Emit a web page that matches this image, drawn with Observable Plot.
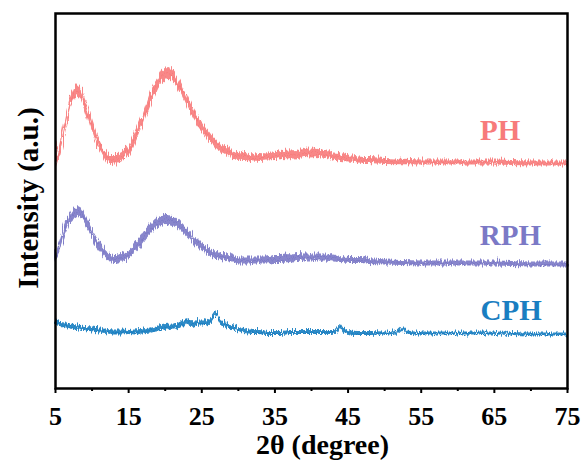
<!DOCTYPE html>
<html><head><meta charset="utf-8">
<script src="https://cdn.jsdelivr.net/npm/d3@7"></script>
<script src="https://cdn.jsdelivr.net/npm/@observablehq/plot@0.6"></script>
<style>body{margin:0;background:#fff} svg text{font-family:"Liberation Serif","DejaVu Serif",serif !important;}</style>
</head><body><div id="chart"></div>
<script>
// 2θ positions (degree) shared by PH and RPH
const xsMain = [5,5.5,6,6.5,7,7.5,8,8.5,9,9.5,10,10.5,11,11.5,12,12.5,13,13.5,14,14.5,15,15.5,16,16.5,17,17.5,18,18.5,19,19.5,20,20.5,21,21.5,22,22.5,23,23.5,24,24.5,25,25.5,26,26.5,27,27.5,28,28.5,29,29.5,30,31,32,33,34,35,36,37,38,39,40,41,42,43,44,45,46,47,48,50,55,60,65,70,75];
// Intensity (a.u., offset stacked) – centre of the noisy trace
const phY = [225,238,253,270,285,294,298,295,286,275,263,252,243,236,231,229,228,229,231,234,238,244,252,261,270,280,290,299,306,311,314,315,313,309,303,296,288,280,273,267,262,257,252,248,245,242,239,237,235,234,233,232,231,231,231,232,233,233,234,235,235,235,234,232,231,230,229,228,228,227,226,226,226,225,225];
// visible noise half-amplitude
const phNoise = [4,5,5,5,5,5,6,5,5,5,5,5,5,4,5,4,5,4,5,4,5,5,5,5,5,5,6,6,5,6,6,6,6,5,5,5,5,5,5,5,5,4,5,4,5,4,4,4,4,4,4,4,3.5,4,3.5,4,4,4.5,4,4,4.5,4,4,3.5,4,3.5,3,3,3,3,2.5,2.5,2.5,2.5,2.5];
const rphY = [130,140,151,162,171,176,177,175,169,162,155,148,142,137,133,130,129,129,130,132,134,137,141,145,150,155,159,163,166,168,169,169,168,166,163,160,156,152,148,145,142,139,137,135,133,132,131,130,129,129,128,128,128,128,128,129,129,130,131,131,131,131,131,130,129,128,128,128,127,126,125,125,125,124,124];
const rphNoise = [4,4,5,5,5,5,5,5,5,4,4,5,4,4,4,4,4,4,4,4,4,4,5,5,5,5,5,5,5,5,5,5,5,4,5,4,4,4,4,4,4,3.5,4,3.5,4,3.5,3.5,3.5,3.5,3.5,3.5,3.5,3.5,3.5,3.5,4,4,4,4,3.5,3.5,3.5,3.5,3.5,3,3,3,3,3,2.5,2.5,2.5,2.5,2.5,2.5];
const xsCPH = [5,6,7,8,9,10,11,12,13,14,15,16,17,18,19,20,21,22,22.5,23,23.5,24,24.5,25,25.5,26,26.5,27,27.5,28,28.5,29,29.5,30,31,32,33,34,35,36,37,38,39,40,41,42,43,43.5,44,44.5,45,46,48,50,51,52,52.5,53,54,55,60,65,70,75];
const cphY = [66,64,62,61,60,59,58,57,56,56,56,56,57,58,59,61,62,63,64,68,64,64,65,65,65,66,70,75,68,64,62,61,60,59,57,56,56,55,55,55,56,56,56,56,56,56,56,57,63,58,56,55,55,55,55,57,60,56,55,55,55,55,54,54];
const cphNoise = [2.5,2.5,2.5,2.5,2,2.5,2.5,2,2.5,2.5,2,2.5,2.5,2.5,2.5,3,2.5,3,3,2.5,3,2.5,3,2.5,2.5,3,2.5,2.5,2.5,2.5,2.5,2,2.5,2,2,2,2,2,2,2,2,2,2,2,2,2,2,2,2,2,2,2,2,1.5,1.5,1.5,1.5,1.5,1.5,1.5,1.5,1.5,1.5,1.5];

const seriesNames = ["PH","RPH","CPH"];
const seriesColors = ["#F77B7B","#7B79C6","#1A7EC1"];
const labelX = [65.8, 67.2, 67.3];
const labelY = [258, 153, 78];
const majorTicks = [5,15,25,35,45,55,65,75];
const minorTicks = [10,20,30,40,50,60,70];

const FONT = "Liberation Serif, DejaVu Serif, serif";

function rows(xs, ys, ns, name) {
  return xs.map((x, i) => ({x, y: ys[i], lo: ys[i] - ns[i], hi: ys[i] + ns[i], name}));
}
const data = [
  ...rows(xsMain, phY, phNoise, "PH"),
  ...rows(xsMain, rphY, rphNoise, "RPH"),
  ...rows(xsCPH, cphY, cphNoise, "CPH")
];
const labels = seriesNames.map((n, i) => ({name: n, x: labelX[i], y: labelY[i]}));

const chart = Plot.plot({
  width: 585, height: 463,
  marginLeft: 55, marginRight: 18, marginTop: 13, marginBottom: 75,
  style: "font-family: 'Liberation Serif', 'DejaVu Serif', serif; font-weight: bold; font-size: 26px; color: #000; background: #fff;",
  x: {domain: [5, 75]},
  y: {domain: [0, 375], axis: null},
  color: {domain: seriesNames, range: seriesColors},
  marks: [
    Plot.areaY(data, {x: "x", y1: "lo", y2: "hi", z: "name", fill: "name", fillOpacity: 0.9, className: "noisy"}),
    Plot.lineY(data, {x: "x", y: "y", z: "name", stroke: "name", strokeWidth: 1, className: "noisy"}),
    Plot.text(labels, {x: "x", y: "y", text: "name", fill: "name", fontFamily: FONT, fontSize: 29, fontWeight: "bold", textAnchor: "middle", lineAnchor: "middle"}),
    Plot.axisX(majorTicks, {tickSize: 5, tickPadding: 13, strokeWidth: 2, fontFamily: FONT, fontSize: 26, fontWeight: "bold", tickFormat: d => String(d), label: null}),
    Plot.axisX(minorTicks, {tickSize: 3, strokeWidth: 2, tickFormat: () => "", label: null}),
    Plot.text(["2θ (degree)"], {frameAnchor: "bottom", dy: 65, dx: 11, textAnchor: "middle", lineAnchor: "bottom", fontFamily: FONT, fontSize: 28, fontWeight: "bold", fill: "#000"}),
    Plot.text(["Intensity (a.u.)"], {frameAnchor: "left", rotate: -90, dx: -27, dy: -3, textAnchor: "middle", lineAnchor: "middle", fontFamily: FONT, fontSize: 29, fontWeight: "bold", fill: "#000"}),
    Plot.frame({stroke: "#000", strokeWidth: 2.5})
  ]
});
// Rendering effect: fuzzy edges to mimic detector noise texture
const ns = "http://www.w3.org/2000/svg";
const defs = document.createElementNS(ns, "defs");
defs.innerHTML = '<filter id="fuzz" x="-2%" y="-20%" width="104%" height="140%">' +
  '<feTurbulence type="fractalNoise" baseFrequency="1.2 0.03" numOctaves="2" seed="3" result="t"/>' +
  '<feDisplacementMap in="SourceGraphic" in2="t" scale="9" xChannelSelector="B" yChannelSelector="R"/>' +
  '</filter>';
chart.insertBefore(defs, chart.firstChild);
chart.querySelectorAll("g.noisy").forEach(g => g.setAttribute("filter", "url(#fuzz)"));
document.getElementById("chart").appendChild(chart);
</script>
</body></html>
